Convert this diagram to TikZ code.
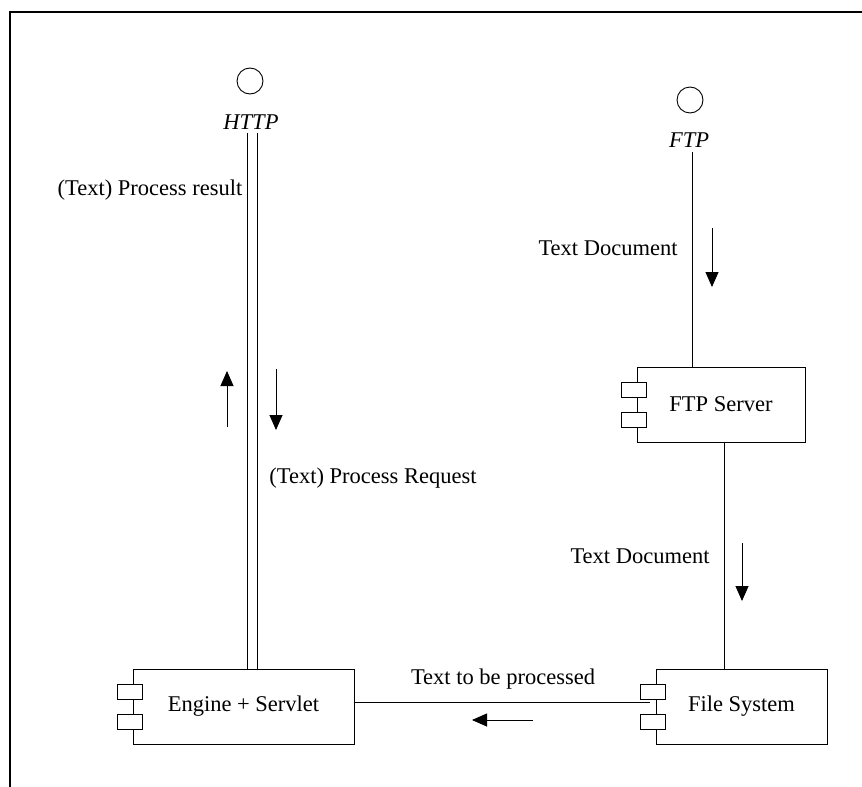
\documentclass[tikz,border=0pt]{standalone}
\usepackage{fontspec}
\setmainfont{Liberation Serif}
\usetikzlibrary{arrows.meta}

\begin{document}
\begin{tikzpicture}[x=1pt, y=-1pt, line width=0.9pt,
        comp/.style = {draw, rectangle, minimum height=75pt, inner sep=0pt},
        port/.style = {draw, fill=white, rectangle, minimum width=25pt, minimum height=15pt, inner sep=0pt},
        iface/.style = {draw, circle, minimum size=26pt, inner sep=0pt},
        lbl/.style = {inner sep=0pt, font=\fontsize{22.5}{26}\selectfont},
        flow/.style = {-{Triangle[width=13pt,length=15pt]}}]
        \useasboundingbox (0,0) rectangle (862,787);
        \draw[line width=2.5pt] (10,787) -- (10,12) -- (862,12);
        % interfaces
        \node[iface] (http) at (250,81) {};
        \node[lbl] (httplbl) at (251,122) {\textit{HTTP}};
        \node[iface] (ftp) at (690,100) {};
        \node[lbl] (ftplbl) at (689,140) {\textit{FTP}};
        % components
        \node[comp, lbl, minimum width=221pt] (engine) at (243.5,706.5) {Engine + Servlet};
        \node[comp, lbl, minimum width=168pt] (ftpsrv) at (721,404.5) {FTP Server};
        \node[comp, lbl, minimum width=171pt] (filesys) at (741.5,706.5) {File System};
        \foreach \c/\n in {engine/e, ftpsrv/f, filesys/s} {
          \node[port] (\n1) at ([xshift=-2.5pt, yshift=15pt]\c.west) {};
          \node[port] (\n2) at ([xshift=-2.5pt, yshift=-15pt]\c.west) {};
        }
        % connectors
        \coordinate (h1) at (247,133);
        \coordinate (h2) at (257,133);
        \draw (h1) -- (h1 |- engine.north);
        \draw (h2) -- (h2 |- engine.north);
        \coordinate (f1) at (692,152);
        \draw (f1) -- (f1 |- ftpsrv.north);
        \coordinate (f2) at (724,442);
        \draw (f2 |- ftpsrv.south) -- (f2 |- filesys.north);
        \coordinate (t1) at (650,702);
        \draw (t1 -| engine.east) -- (t1);
        % flow arrows
        \coordinate (ua) at (227,427);
        \coordinate (ub) at (227,371);
        \draw[flow] (ua) -- (ub);
        \coordinate (da) at (276,369);
        \coordinate (db) at (276,430);
        \draw[flow] (da) -- (db);
        \coordinate (fa) at (712,228);
        \coordinate (fb) at (712,287);
        \draw[flow] (fa) -- (fb);
        \coordinate (ga) at (742,543);
        \coordinate (gb) at (742,601);
        \draw[flow] (ga) -- (gb);
        \coordinate (la) at (533,720);
        \coordinate (lb) at (472,720);
        \draw[flow] (la) -- (lb);
        % labels
        \node[lbl] (res) at (150,190) {(Text) Process result};
        \node[lbl] (req) at (373,478) {(Text) Process Request};
        \node[lbl] (doc1) at (608,248) {Text Document};
        \node[lbl] (doc2) at (640,556) {Text Document};
        \node[lbl] (proc) at (503,679) {Text to be processed};
      \end{tikzpicture}
\end{document}
